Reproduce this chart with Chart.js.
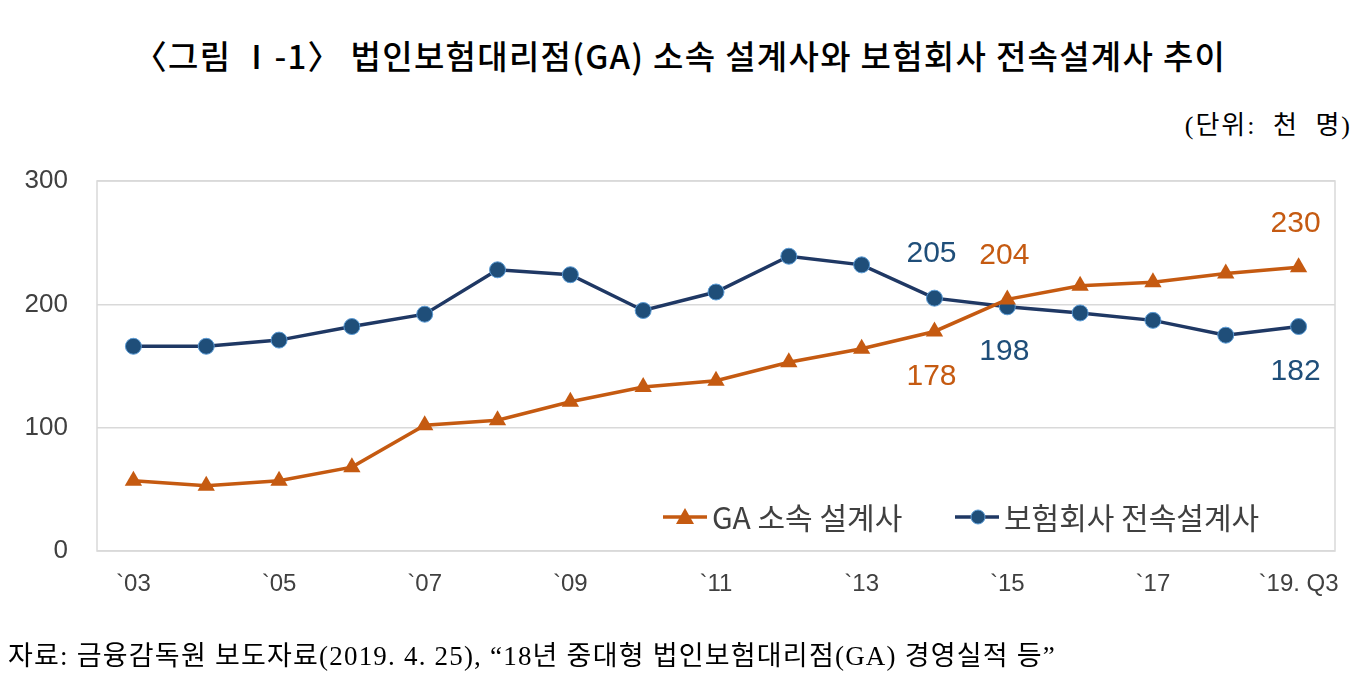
<!DOCTYPE html>
<html>
<head>
<meta charset="utf-8">
<script src="https://cdn.jsdelivr.net/npm/chart.js@4.4.1/dist/chart.umd.min.js"></script>
<style>
  body { margin: 0; background: #fff; width: 1360px; height: 679px; overflow: hidden; position: relative; }
  #wrap { position: absolute; left: 0; top: 0; width: 1360px; height: 679px; }
  .txt { position: absolute; white-space: nowrap; color: #000; }
  #title { left: 0; width: 1360px; top: 31px; text-align: center; font: 500 33px "Noto Sans CJK KR", sans-serif; letter-spacing: 1.3px; }
  #unit { right: 8px; top: 104px; font: 26px "Liberation Serif", "Noto Sans CJK KR", serif; letter-spacing: 2px; word-spacing: 8px; }
  #src { left: 8px; top: 634px; font: 27px "Liberation Serif", "Noto Sans CJK KR", serif; letter-spacing: 1.2px; }
</style>
</head>
<body>
<div class="txt" id="title">〈그림 Ⅰ-1〉 법인보험대리점(GA) 소속 설계사와 보험회사 전속설계사 추이</div>
<div class="txt" id="unit">(단위: 천 명)</div>
<div id="wrap"><canvas id="myChart" width="1360" height="679"></canvas></div>
<div class="txt" id="src">자료: 금융감독원 보도자료(2019. 4. 25), “18년 중대형 법인보험대리점(GA) 경영실적 등”</div>
<script>
// 연도 (천 명)
const years = ['`03', '`04', '`05', '`06', '`07', '`08', '`09', '`10', '`11', '`12', '`13', '`14', '`15', '`16', '`17', '`18', '`19. Q3'];
const gaAgents = [57, 53, 57, 68, 102, 106, 121, 133, 138, 153, 164, 178, 204, 215, 218, 225, 230];
const insurerAgents = [166, 166, 171, 182, 192, 228, 224, 195, 210, 239, 232, 205, 198, 193, 187, 175, 182];
const seriesNames = ['GA 소속 설계사', '보험회사 전속설계사'];
const yTicks = [0, 100, 200, 300];
// 값 표시할 점: [index, 위/아래]
const gaLabels = [[11, 'below'], [12, 'above'], [16, 'above']];
const insurerLabels = [[11, 'above'], [12, 'below'], [16, 'below']];

const ORANGE = '#C55A11';
const NAVY = '#1F3864';
const BLUE_DOT = '#1F4E79';

// 플롯 테두리
const boxPlugin = {
    id: 'box',
    beforeDatasetsDraw(chart) {
        const a = chart.chartArea;
        const ctx = chart.ctx;
        ctx.save();
        ctx.strokeStyle = '#D9D9D9';
        ctx.lineWidth = 1.5;
        ctx.strokeRect(a.left, a.top, a.right - a.left, a.bottom - a.top);
        ctx.restore();
    }
};

// 값 라벨
const valuePlugin = {
    id: 'values',
    afterDatasetsDraw(chart) {
        const ctx = chart.ctx;
        ctx.save();
        ctx.font = '30px "Liberation Sans", Arial, sans-serif';
        ctx.textAlign = 'center';
        ctx.textBaseline = 'middle';
        const sets = [[0, gaLabels, ORANGE, gaAgents], [1, insurerLabels, BLUE_DOT, insurerAgents]];
        sets.forEach(([di, list, color, vals]) => {
            const meta = chart.getDatasetMeta(di);
            ctx.fillStyle = color;
            list.forEach(([i, pos]) => {
                const p = meta.data[i];
                const dy = pos === 'above' ? -44 : 45;
                ctx.fillText(String(vals[i]), p.x - 3, p.y + dy);
            });
        });
        ctx.restore();
    }
};

// 범례 (플롯 안쪽 아래)
const legendPlugin = {
    id: 'inLegend',
    afterDatasetsDraw(chart) {
        const ctx = chart.ctx;
        const y = 517;
        const items = [
            { x: 663, color: ORANGE, style: 'triangle', text: seriesNames[0] },
            { x: 955, color: NAVY, style: 'circle', text: seriesNames[1] }
        ];
        ctx.save();
        ctx.font = '30px "Noto Sans CJK KR", sans-serif';
        ctx.textBaseline = 'middle';
        items.forEach(it => {
            ctx.strokeStyle = it.color;
            ctx.lineWidth = 3.5;
            ctx.beginPath();
            ctx.moveTo(it.x, y);
            ctx.lineTo(it.x + 44, y);
            ctx.stroke();
            if (it.style === 'triangle') {
                ctx.fillStyle = ORANGE;
                ctx.beginPath();
                ctx.moveTo(it.x + 22, y - 9);
                ctx.lineTo(it.x + 31, y + 7);
                ctx.lineTo(it.x + 13, y + 7);
                ctx.closePath();
                ctx.fill();
            } else {
                ctx.fillStyle = BLUE_DOT;
                ctx.strokeStyle = '#5B9BD5';
                ctx.lineWidth = 1;
                ctx.beginPath();
                ctx.arc(it.x + 23, y, 7, 0, Math.PI * 2);
                ctx.fill();
                ctx.stroke();
            }
            ctx.fillStyle = '#404040';
            ctx.fillText(it.text, it.x + 49, y + 1);
        });
        ctx.restore();
    }
};

window.onload = () => {
    const ctx = document.getElementById('myChart').getContext('2d');
    new Chart(ctx, {
        type: 'line',
        data: {
            labels: years,
            datasets: [
                {
                    label: seriesNames[0],
                    data: gaAgents,
                    borderColor: ORANGE,
                    backgroundColor: ORANGE,
                    borderWidth: 3.5,
                    pointStyle: 'triangle',
                    pointRadius: 10,
                    pointBorderWidth: 0,
                    tension: 0
                },
                {
                    label: seriesNames[1],
                    data: insurerAgents,
                    borderColor: NAVY,
                    backgroundColor: BLUE_DOT,
                    pointBorderColor: '#5B9BD5',
                    borderWidth: 3.5,
                    pointStyle: 'circle',
                    pointRadius: 8,
                    pointBorderWidth: 1,
                    tension: 0
                }
            ]
        },
        options: {
            responsive: false,
            animation: false,
            events: [],
            layout: { padding: { left: 0, right: 25, top: 181, bottom: 78 } },
            plugins: { legend: { display: false }, tooltip: { enabled: false } },
            scales: {
                x: {
                    offset: true,
                    grid: { display: false },
                    border: { display: false },
                    afterFit(scale) { scale.height = 50; },
                    ticks: {
                        autoSkip: false,
                        maxRotation: 0,
                        padding: 11,
                        color: '#404040',
                        font: { family: '"Liberation Sans", Arial, sans-serif', size: 24 },
                        callback: function (v, i) { return i % 2 === 0 ? years[i] : ''; }
                    }
                },
                y: {
                    min: 0,
                    max: 300,
                    afterFit(scale) { scale.width = 97; },
                    afterBuildTicks(scale) { scale.ticks = yTicks.map(v => ({ value: v })); },
                    grid: { color: '#D9D9D9', lineWidth: 1.5, drawTicks: false },
                    border: { display: false },
                    ticks: {
                        padding: 29,
                        color: '#404040',
                        font: { family: '"Liberation Sans", Arial, sans-serif', size: 26 }
                    }
                }
            }
        },
        plugins: [boxPlugin, valuePlugin, legendPlugin]
    });
};
</script>
</body>
</html>
